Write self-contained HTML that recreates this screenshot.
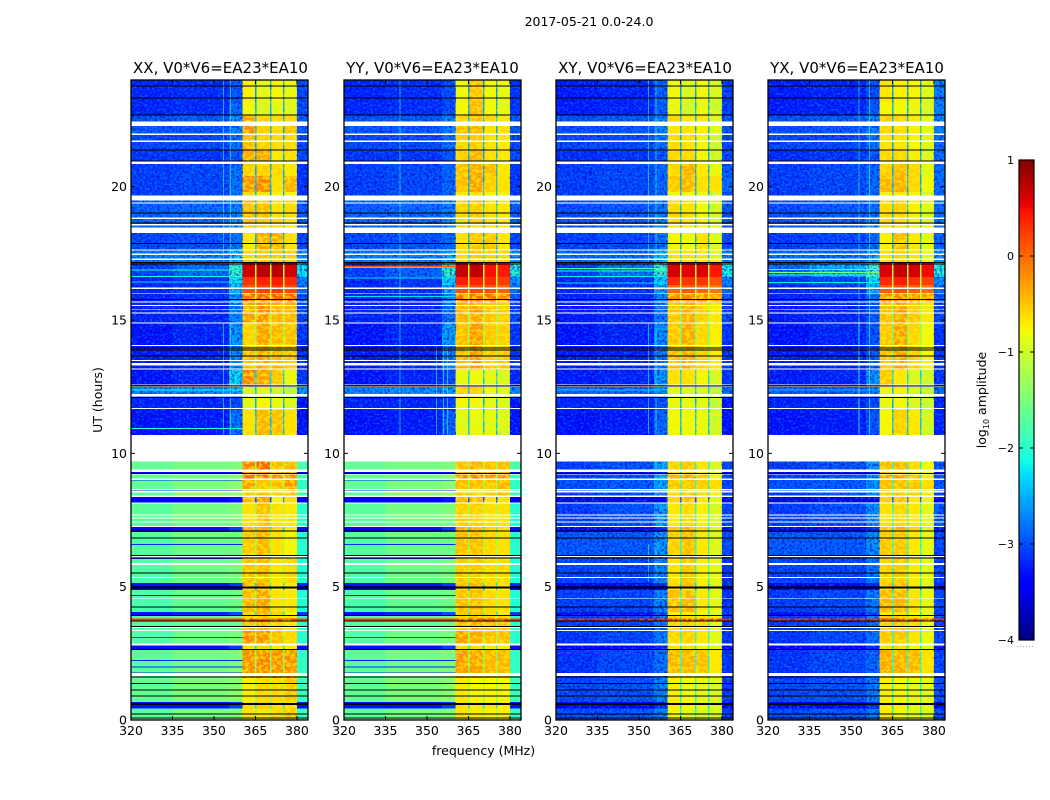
<!DOCTYPE html>
<html>
<head>
<meta charset="utf-8">
<title>2017-05-21 0.0-24.0</title>
<style>
html,body{margin:0;padding:0;background:#fff;width:1050px;height:800px;overflow:hidden}
svg{display:block}
text{font-family:"DejaVu Sans","Liberation Sans",sans-serif;fill:#000}
.heat rect{shape-rendering:crispEdges}
</style>
</head>
<body>
<svg id="figure" xmlns="http://www.w3.org/2000/svg" width="1050" height="800" viewBox="0 0 1050 800">
<defs>
<filter id="speckle-dark" x="0" y="0" width="1" height="1" color-interpolation-filters="sRGB">
<feTurbulence type="fractalNoise" baseFrequency="0.4 0.42" numOctaves="2" seed="4"/>
<feColorMatrix type="matrix" values="0 0 0 0 0  0 0 0 0 0  0 0 0 0 0.85  5 0 0 0 -2.3"/>
</filter>
<filter id="speckle-light" x="0" y="0" width="1" height="1" color-interpolation-filters="sRGB">
<feTurbulence type="fractalNoise" baseFrequency="0.38 0.44" numOctaves="2" seed="11"/>
<feColorMatrix type="matrix" values="0 0 0 0 0  0 0 0 0 0.62  0 0 0 0 1  5 0 0 0 -2.6"/>
</filter>
<filter id="speckle-band" x="0" y="0" width="1" height="1" color-interpolation-filters="sRGB">
<feTurbulence type="fractalNoise" baseFrequency="0.22 0.3" numOctaves="2" seed="7"/>
<feColorMatrix type="matrix" values="0 0 0 0 1  0 0 0 0 0.93  0 0 0 0 0  6 0 0 0 -2.7"/>
</filter>
</defs>
<text x="589" y="26" font-size="12.5" text-anchor="middle">2017-05-21 0.0-24.0</text>
<text x="220.5" y="73" font-size="15" text-anchor="middle">XX, V0*V6=EA23*EA10</text>
<text x="432.5" y="73" font-size="15" text-anchor="middle">YY, V0*V6=EA23*EA10</text>
<text x="645" y="73" font-size="15" text-anchor="middle">XY, V0*V6=EA23*EA10</text>
<text x="857" y="73" font-size="15" text-anchor="middle">YX, V0*V6=EA23*EA10</text>
<text transform="translate(102,400) rotate(-90)" font-size="12.5" text-anchor="middle">UT (hours)</text>
<text x="483.5" y="755" font-size="12.5" text-anchor="middle">frequency (MHz)</text>
<text transform="translate(986,400) rotate(-90)" font-size="12.5" text-anchor="middle">log<tspan font-size="8" dy="3">10</tspan><tspan dy="-3"> amplitude</tspan></text>
<g id="panels"></g>
<g id="colorbar"></g>
</svg>
<script>
// Axis tick labels
const freqTicks = [320, 335, 350, 365, 380];
const hourTicks = [0, 5, 10, 15, 20];
const colorbarTicks = [1, 0, -1, -2, -3, -4];

// Spectral windows (MHz): three background columns, four sub-bands with notches, right edge
const channelEdges = [320, 335, 355.5, 360.4, 364.9, 365.4, 370.3, 370.8, 375, 375.5, 380, 384];
// which value of a level row each channel column reads: b1 b2 b3 A N B N C N D R
const channelColumns = [0, 1, 2, 3, 8, 4, 8, 5, 8, 6, 7];
// tone correction added to each value of a level row
const columnBias = [-.1, -.1, -.08, -.08, -.08, -.08, -.08, -.1, -.25];

// Start hour (from the top down) of each time segment
const segmentHours = [24,23.17,22.69,22.27,21.94,21.38,20.85,20.4,19.8,19.49,18.83,18.27,17.65,17.14,16.61,16.31,16,15.64,14.89,14.03,13.13,12.49,12.11,11.63,9.69,9.3,9.2,9,8.55,8.36,8.11,7.24,7.05,6.08,5.13,5.03,4.88,4.05,3.9,3.8,3.74,3.34,2.79,2.66,1.58,0.68,0.44];

// log10 amplitude per segment: b1,b2,b3,A,B,C,D,right,notch
const levelsXX = [
[-3.1,-3.05,-2.85,-.65,-.85,-.7,-.8,-2.9,-2.4],
[-3.1,-3.05,-2.75,-.75,-.95,-.85,-.9,-2.9,-2.3],
[-2.85,-2.8,-2.5,-.2,-.5,-.5,-.5,-2.8,-2.2],
[-2.8,-2.8,-2.6,-.1,-.45,-.5,-.35,-2.8,-2.3],
[-2.9,-2.9,-2.7,-.3,-.45,-.5,-.5,-2.9,-2.3],
[-3,-3,-2.85,-.25,-.2,-.6,-.55,-2.9,-2.3],
[-2.95,-2.9,-2.7,-.45,-.45,-.5,-.6,-3,-2.3],
[-2.95,-2.9,-2.7,-.1,-.05,-.55,-.3,-3,-2.3],
[-2.95,-2.9,-2.7,-.5,-.55,-.65,-.7,-3,-2.3],
[-2.75,-2.7,-2.6,-.3,-.35,-.55,-.5,-2.8,-2.2],
[-2.7,-2.7,-2.5,-.4,-.45,-.5,-.6,-2.8,-2.2],
[-2.9,-2.85,-2.7,-.6,-.25,-.25,-.55,-2.9,-2.3],
[-2.6,-2.6,-2.3,-.5,-.4,-.4,-.4,-2.5,-2.1],
[-2.95,-2.7,-1.8,.72,.82,.82,.72,-2.1,-.7],
[-3.1,-3,-2.1,.35,.45,.5,.4,-2.6,-.8],
[-3.1,-3,-2.3,.2,.3,.35,.25,-2.7,-.85],
[-3.1,-3.05,-2.5,.05,.12,.15,.1,-2.8,-.9],
[-3.1,-3.1,-2.6,-.2,-.1,-.3,-.3,-2.9,-1.1],
[-3.2,-3.1,-2.5,-.45,-.2,-.3,-.35,-3,-1.1],
[-3.15,-3.1,-2.6,-.35,-.2,-.3,-.35,-3,-1.1],
[-3.2,-3.1,-2.15,-.02,-.2,-.4,-.8,-3,-2.1],
[-2.55,-2.5,-2.4,-1,-.9,-1,-1.2,-2.5,-2.2],
[-3.1,-3.1,-2.9,-.85,-.7,-.8,-.95,-3.2,-2.3],
[-3.2,-3.15,-2.7,-.55,-.3,-.35,-.55,-3.2,-2.2],
[-1.55,-1.45,-1.4,-.02,.15,-.3,-.35,-1.7,-1.1],
[-3.3,-3.3,-3.2,-.15,-.1,-.2,-.2,-3.3,-1.9],
[-1.6,-1.5,-1.4,.1,.12,-.1,-.1,-1.8,-1],
[-1.55,-1.4,-1.35,-.2,-.4,-.35,-.15,-1.85,-1.1],
[-1.6,-1.4,-1.3,-.45,-.4,-.45,-.35,-1.85,-1.1],
[-3.35,-3.3,-3.2,-.3,-.15,-.7,-.55,-3.3,-2.7],
[-1.6,-1.45,-1.4,-.55,-.35,-.55,-.6,-1.9,-1.1],
[-3.3,-3.2,-3,-.3,-.3,-.5,-.6,-3.2,-2],
[-1.65,-1.5,-1.5,-.4,-.3,-.55,-.7,-1.9,-1.1],
[-1.65,-1.5,-1.45,-.35,-.35,-.55,-.5,-1.95,-1.1],
[-3.2,-3.2,-3,-.25,-.2,-.6,-.65,-3.1,-2],
[-3.4,-3.4,-3.3,-.5,-.5,-.7,-.7,-3.4,-2.4],
[-1.7,-1.55,-1.5,-.3,-.2,-.55,-.6,-1.95,-1.1],
[-3.2,-3.1,-2.9,-.5,-.35,-.5,-.7,-3,-2],
[-1.65,-1.55,-1.5,-.5,-.4,-.6,-.6,-1.9,-1.1],
[.35,.35,.35,.35,.35,.35,.35,.35,.35],
[-1.65,-1.55,-1.5,-.35,-.3,-.45,-.6,-1.9,-1.1],
[-1.65,-1.5,-1.45,-.1,-.1,-.35,-.5,-1.9,-1.1],
[-3.2,-3.2,-3,-.5,-.5,-.6,-.6,-3.2,-2],
[-1.6,-1.45,-1.4,-.1,-.05,-.1,-.1,-1.85,-1.2],
[-1.55,-1.4,-1.35,-.65,-.5,-.5,-.4,-1.8,-1.1],
[-3.2,-3.2,-3,-.5,-.45,-.55,-.55,-3.2,-2],
[-1.6,-1.45,-1.4,-.55,-.6,-.5,-.4,-1.8,-1.1]];

const levelsYY = [
[-3.1,-3.05,-2.9,-.75,-.4,-.75,-.8,-3,-2.4],
[-3.1,-3.05,-2.9,-.7,-.3,-.75,-.85,-3,-2.3],
[-2.85,-2.8,-2.6,-.5,-.35,-.5,-.6,-2.8,-2.2],
[-2.8,-2.8,-2.6,-.35,-.3,-.55,-.55,-2.8,-2.3],
[-2.9,-2.9,-2.7,-.45,-.4,-.55,-.6,-2.9,-2.3],
[-3,-3,-2.85,-.45,-.3,-.55,-.6,-2.9,-2.3],
[-2.95,-2.9,-2.75,-.35,-.25,-.35,-.6,-3,-2.3],
[-2.95,-2.9,-2.75,-.35,-.2,-.45,-.55,-3,-2.3],
[-2.95,-2.9,-2.75,-.6,-.55,-.65,-.7,-3,-2.3],
[-2.75,-2.7,-2.6,-.45,-.4,-.55,-.6,-2.8,-2.2],
[-2.7,-2.7,-2.5,-.5,-.5,-.55,-.65,-2.8,-2.2],
[-2.9,-2.85,-2.75,-.55,-.4,-.4,-.6,-2.9,-2.3],
[-2.6,-2.6,-2.4,-.5,-.4,-.45,-.5,-2.5,-2.1],
[-2.95,-2.75,-1.85,.78,.8,.55,.5,-1.9,-.6],
[-3.1,-3,-2.2,.48,.45,.4,.3,-2.5,-.8],
[-3.1,-3,-2.35,.2,.25,.2,.1,-2.7,-.85],
[-3.1,-3.05,-2.6,.05,.05,.05,-.1,-2.8,-.9],
[-3.1,-3.1,-2.7,-.3,-.2,-.4,-.45,-2.9,-1.1],
[-3.2,-3.1,-2.45,-.35,-.15,-.4,-.45,-3,-1.1],
[-3.15,-3.1,-2.6,-.3,-.15,-.4,-.4,-3,-1.1],
[-3.2,-3.1,-2.9,-.8,-.75,-.85,-.95,-3.1,-2.1],
[-2.55,-2.5,-2.45,-.45,-.45,-.75,-.85,-2.5,-2.2],
[-3.1,-3.1,-3,-.75,-.75,-.85,-.9,-3.2,-2.3],
[-3.2,-3.15,-2.8,-.9,-.8,-.85,-.9,-3.2,-2.2],
[-1.55,-1.45,-1.4,-.35,-.3,-.35,-.35,-1.7,-1.1],
[-3.3,-3.3,-3.2,-.15,-.1,-.2,-.2,-3.3,-1.9],
[-1.6,-1.5,-1.4,-.1,-.05,-.1,-.15,-1.8,-1],
[-1.55,-1.4,-1.35,-.35,-.35,-.35,-.3,-1.85,-1.1],
[-1.6,-1.4,-1.3,-.4,-.4,-.4,-.35,-1.85,-1.1],
[-3.35,-3.3,-3.2,-.3,-.3,-.55,-.55,-3.3,-2.7],
[-1.6,-1.45,-1.4,-.45,-.45,-.55,-.55,-1.9,-1.1],
[-3.3,-3.2,-3,-.25,-.3,-.45,-.55,-3.2,-2],
[-1.65,-1.5,-1.5,-.35,-.35,-.5,-.55,-1.9,-1.1],
[-1.65,-1.5,-1.45,-.4,-.4,-.5,-.5,-1.95,-1.1],
[-3.2,-3.2,-3,-.3,-.3,-.5,-.55,-3.1,-2],
[-3.4,-3.4,-3.3,-.5,-.5,-.7,-.7,-3.4,-2.4],
[-1.7,-1.55,-1.5,-.35,-.35,-.5,-.55,-1.95,-1.1],
[-3.2,-3.1,-2.9,-.45,-.35,-.5,-.6,-3,-2],
[-1.65,-1.55,-1.5,-.45,-.4,-.5,-.55,-1.9,-1.1],
[.35,.35,.35,.35,.35,.35,.35,.35,.35],
[-1.65,-1.55,-1.5,-.3,-.25,-.35,-.4,-1.9,-1.1],
[-1.65,-1.5,-1.45,-.2,-.25,-.35,-.35,-1.9,-1.1],
[-3.2,-3.2,-3,-.5,-.5,-.6,-.6,-3.2,-2],
[-1.6,-1.45,-1.4,-.15,-.2,-.3,-.3,-1.85,-1.2],
[-1.55,-1.4,-1.35,-.6,-.7,-.7,-.7,-1.8,-1.1],
[-3.2,-3.2,-3,-.55,-.6,-.6,-.65,-3.2,-2],
[-1.6,-1.45,-1.4,-.55,-.6,-.65,-.65,-1.8,-1.1]];

const levelsXY = [
[-3.15,-3.1,-2.8,-.75,-.95,-.75,-.95,-2.95,-2.4],
[-3.15,-3.1,-2.8,-.8,-1,-.8,-1,-2.95,-2.3],
[-2.85,-2.8,-2.6,-.45,-.6,-.6,-.9,-2.8,-2.2],
[-2.85,-2.8,-2.6,-.6,-.55,-.65,-.9,-2.8,-2.3],
[-2.9,-2.9,-2.7,-.5,-.55,-.7,-1,-2.9,-2.3],
[-3.05,-3,-2.85,-.5,-.5,-.7,-1,-2.9,-2.3],
[-2.95,-2.9,-2.75,-.5,-.25,-.6,-.8,-2.8,-2.3],
[-2.95,-2.9,-2.75,-.4,-.3,-.55,-.55,-2.7,-2.3],
[-2.95,-2.9,-2.75,-.7,-.7,-.75,-.95,-2.9,-2.3],
[-2.85,-2.8,-2.7,-.5,-.55,-.75,-1,-2.85,-2.2],
[-2.8,-2.75,-2.55,-.55,-.6,-.7,-.95,-2.85,-2.2],
[-2.95,-2.9,-2.7,-.7,-.75,-.55,-.9,-2.9,-2.3],
[-2.7,-2.7,-2.3,-.55,-.55,-.55,-.85,-2.6,-2.1],
[-2.95,-2.65,-1.75,.72,.65,.7,.52,-2,-.8],
[-3.1,-3,-2.2,.42,.35,.35,.2,-2.6,-.9],
[-3.1,-3,-2.4,.1,.15,.1,0,-2.7,-.95],
[-3.1,-3.05,-2.6,-.1,-.05,-.1,-.2,-2.8,-1],
[-3.15,-3.1,-2.65,-.4,-.25,-.45,-.6,-2.9,-1.3],
[-3.2,-3.1,-2.55,-.4,-.25,-.5,-.65,-3,-1.4],
[-3.15,-3.1,-2.65,-.35,-.25,-.45,-.6,-3,-1.4],
[-3.15,-3.1,-2.5,-.55,-.55,-.7,-.95,-3,-2.1],
[-2.7,-2.7,-2.55,-.85,-.9,-1,-1.2,-2.7,-2.2],
[-3.1,-3.1,-2.9,-.8,-.85,-.85,-1.1,-3.2,-2.3],
[-3.2,-3.15,-2.75,-.75,-.75,-.8,-1,-3.2,-2.2],
[-2.95,-2.85,-2.4,-.45,-.4,-.55,-.95,-2.9,-1.9],
[-3.35,-3.3,-3.2,-.4,-.4,-.55,-.8,-3.3,-2.2],
[-2.95,-2.85,-2.4,-.3,-.2,-.4,-.75,-2.9,-1.9],
[-2.85,-2.8,-2.4,-.4,-.4,-.45,-.5,-2.9,-1.9],
[-2.95,-2.85,-2.5,-.45,-.4,-.5,-.65,-2.9,-1.9],
[-3.45,-3.4,-3.3,-.5,-.35,-.6,-.9,-3.3,-2.7],
[-2.95,-2.85,-2.45,-.6,-.5,-.65,-.95,-2.9,-1.9],
[-3.4,-3.3,-3.1,-.45,-.3,-.5,-.9,-3.2,-2],
[-2.8,-2.8,-2.5,-.45,-.35,-.6,-.9,-2.9,-1.9],
[-2.9,-2.9,-2.6,-.55,-.4,-.65,-.85,-3,-1.9],
[-3.35,-3.3,-3.1,-.5,-.35,-.65,-.9,-3.1,-2],
[-3.5,-3.45,-3.35,-.6,-.55,-.75,-.9,-3.4,-2.4],
[-2.95,-2.9,-2.6,-.35,-.3,-.6,-.85,-3,-1.9],
[-3.2,-3.15,-2.9,-.7,-.6,-.7,-.9,-3,-2],
[-2.95,-2.9,-2.6,-.5,-.55,-.65,-.9,-3,-1.9],
[.35,.35,.35,.35,.35,.35,.35,.35,.35],
[-2.95,-2.9,-2.65,-.5,-.45,-.5,-.85,-3,-1.9],
[-3,-2.9,-2.65,-.5,-.45,-.6,-.85,-3,-1.9],
[-3.3,-3.3,-3.1,-.55,-.55,-.7,-.9,-3.2,-2],
[-3,-2.9,-2.7,-.3,-.3,-.35,-.6,-3,-1.9],
[-2.9,-2.85,-2.6,-.65,-.75,-.85,-.9,-2.95,-1.9],
[-3.4,-3.35,-3.1,-.65,-.7,-.8,-.9,-3.3,-2],
[-2.85,-2.8,-2.6,-.7,-.85,-.95,-.95,-2.95,-1.9]];

const levelsYX = [
[-3.15,-3.1,-2.9,-.6,-.65,-.7,-.9,-2.6,-2.4],
[-3.15,-3.1,-2.85,-.7,-.75,-.8,-.95,-2.6,-2.3],
[-2.85,-2.8,-2.6,-.45,-.5,-.6,-.85,-2.6,-2.2],
[-2.85,-2.8,-2.6,-.5,-.5,-.65,-.85,-2.6,-2.3],
[-2.9,-2.9,-2.7,-.55,-.55,-.7,-.95,-2.7,-2.3],
[-3.05,-3,-2.85,-.5,-.5,-.65,-.9,-2.7,-2.3],
[-2.95,-2.9,-2.75,-.45,-.35,-.5,-.85,-2.7,-2.3],
[-2.95,-2.9,-2.75,-.3,-.25,-.5,-.75,-2.7,-2.3],
[-2.95,-2.9,-2.75,-.65,-.6,-.7,-.95,-2.75,-2.3],
[-2.85,-2.8,-2.7,-.5,-.45,-.65,-.9,-2.7,-2.2],
[-2.8,-2.75,-2.55,-.5,-.5,-.65,-.9,-2.7,-2.2],
[-2.95,-2.9,-2.75,-.65,-.35,-.6,-.85,-2.75,-2.3],
[-2.7,-2.7,-2.4,-.55,-.45,-.55,-.8,-2.5,-2.1],
[-2.7,-2.35,-1.75,.68,.78,.72,.58,-1.9,-.8],
[-3,-2.9,-2.15,.42,.48,.38,.3,-2.5,-.9],
[-3.1,-3,-2.4,.15,.22,.15,.05,-2.7,-.95],
[-3.1,-3.05,-2.7,-.1,-.05,-.1,-.2,-2.8,-1],
[-3.15,-3.1,-2.85,-.35,-.2,-.4,-.6,-2.9,-1.2],
[-3.2,-3.1,-2.85,-.4,-.2,-.5,-.75,-3,-1.3],
[-3.15,-3.1,-2.8,-.35,-.2,-.45,-.7,-3,-1.3],
[-3.15,-3.1,-2.5,-.4,-.6,-.95,-1.05,-3,-2.1],
[-2.75,-2.75,-2.65,-.75,-.65,-.95,-1.1,-2.7,-2.2],
[-3.1,-3.1,-2.9,-.8,-.75,-.95,-1.05,-3.1,-2.3],
[-3.2,-3.15,-2.85,-.7,-.45,-.6,-1,-3.1,-2.2],
[-2.95,-2.85,-2.5,-.35,-.3,-.5,-.75,-2.8,-1.9],
[-3.35,-3.3,-3.2,-.35,-.35,-.5,-.7,-3.3,-2.2],
[-2.95,-2.85,-2.5,-.2,-.2,-.35,-.6,-2.8,-1.9],
[-2.85,-2.8,-2.5,-.35,-.35,-.4,-.5,-2.8,-1.9],
[-2.95,-2.85,-2.55,-.4,-.4,-.45,-.6,-2.8,-1.9],
[-3.45,-3.4,-3.3,-.45,-.4,-.6,-.85,-3.3,-2.7],
[-2.95,-2.85,-2.55,-.55,-.5,-.6,-.85,-2.8,-1.9],
[-3.4,-3.3,-3.1,-.4,-.3,-.5,-.85,-3.2,-2],
[-2.8,-2.8,-2.55,-.4,-.4,-.6,-.85,-2.9,-1.9],
[-2.9,-2.9,-2.65,-.45,-.4,-.6,-.85,-2.9,-1.9],
[-3.35,-3.3,-3.1,-.4,-.35,-.6,-.9,-3.1,-2],
[-3.5,-3.45,-3.35,-.6,-.55,-.75,-.9,-3.4,-2.4],
[-2.95,-2.9,-2.65,-.3,-.3,-.55,-.8,-2.9,-1.9],
[-3.2,-3.15,-2.9,-.6,-.55,-.7,-.9,-3,-2],
[-2.95,-2.9,-2.65,-.45,-.5,-.6,-.85,-2.9,-1.9],
[.35,.35,.35,.35,.35,.35,.35,.35,.35],
[-2.95,-2.9,-2.7,-.45,-.4,-.5,-.8,-2.9,-1.9],
[-3,-2.9,-2.7,-.4,-.4,-.55,-.8,-2.9,-1.9],
[-3.3,-3.3,-3.1,-.55,-.55,-.7,-.9,-3.2,-2],
[-3,-2.9,-2.75,-.25,-.25,-.3,-.55,-2.9,-1.9],
[-2.9,-2.85,-2.65,-.65,-.7,-.8,-.85,-2.85,-1.9],
[-3.4,-3.35,-3.1,-.65,-.65,-.8,-.9,-3.3,-2],
[-2.85,-2.8,-2.65,-.6,-.7,-.85,-.9,-2.85,-1.9]];

// Flagged (blank) time ranges [start hour, end hour], all panels
const blankRanges = [[22.44,22.27],[22,21.94],[21.74,21.68],[20.94,20.85],[19.66,19.49],[19.41,19.36],[18.84,18.79],[18.6,18.54],[18.46,18.27],[17.65,17.6],[17.5,17.44],[17.31,17.25],[16.21,16.17],[16.02,15.99],[15.69,15.65],[15.56,15.53],[15.42,15.4],[15.29,15.25],[14.9,14.86],[14.06,14.03],[13.5,13.46],[13.38,13.29],[13.19,13.15],[12.59,12.56],[12.53,12.49],[12.23,12.14],[11.7,11.66],[10.69,9.69],[9.4,9.3],[9.22,9.2],[9.06,9],[8.66,8.61],[8.58,8.54],[8.41,8.37],[8.15,8.11],[7.71,7.66],[7.59,7.55],[7.44,7.4],[7.28,7.24],[6.16,6.11],[5.88,5.82],[5.36,5.33],[4.56,4.54],[3.5,3.45],[3.37,3.34],[2.87,2.79],[1.76,1.65]];

// Zero-amplitude (black) rows, hour of each, all panels
const blackRows = [23.79,23.34,22.71,21.4,20.99,19.04,18.65,17.88,17.18,17.12,15.78,13.96,13.89,13.66,12.54,12.11,9.27,7.11,6.85,6.18,6.09,5.54,5,4.96,4.26,3.94,3.74,3.53,2.66,1.63,1.39,1.15,.91,.64,.6,.25,.09];

// Single background rows [hour, level] per panel
const rowsXX = [[10.95,-2],[9.02,-3.2],[8.6,-3.2],[6.6,-3.2],[6.08,-3.2],[4.68,-3.2],[3.12,-3],[2.25,-3.2],[2,-3.2],[1.78,-3.2],[16.9,-2.1],[16.65,-2.1],[16.45,-2.3],[12.4,-2.1]];
const rowsYY = [[17.02,.1],[16.98,-.3],[16.6,-2.2],[16.2,-2.2],[15.9,-2.3],[9.02,-3.2],[8.6,-3.2],[6.6,-3.2],[6.08,-3.2],[4.68,-3.2],[3.12,-3],[2.25,-3.2],[2,-3.2],[1.78,-3.2]];
const rowsXY = [[16.95,-1.9],[16.85,-2],[16.65,-2.2],[16.4,-2.3],[12.4,-2.4]];
const rowsYX = [[16.92,-1.7],[16.8,-1.5],[16.7,-1.9],[16.42,-2.2],[12.4,-2.5]];

// Narrow RFI channels [MHz, from hour, to hour] per panel
const rfiXX = [[353.2,24,17.2],[355.8,24,17.2],[353.2,14.9,10.7],[355.8,14.9,10.7]];
const rfiYY = [[340,24,10.7],[353.2,14,10.7],[355.8,14,10.7],[357.2,14,10.7]];
const rfiXY = [[353.2,24,17.2],[356,24,17.2],[353.2,14.9,10.7],[356,14.9,10.7],[353.2,6.6,5.2],[356,6.6,5.2]];
const rfiYX = [[352.8,24,10.7],[356.5,24,10.7],[352.8,14.9,10.7]];

// Noisy time ranges [from hour, to hour] per panel
const noisyXX = [[24,10.69]];
const noisyYY = [[24,10.69]];
const noisyXY = [[24,0]];
const noisyYX = [[24,0]];
// Hours where the sub-bands show mottled yellow texture
const bandTextureRanges = [[24,17.14],[16,0]];

const panelNames = ['xx', 'yy', 'xy', 'yx'];
const panelLefts = [131, 344, 556, 768];
const panelLevels = [levelsXX, levelsYY, levelsXY, levelsYX];
const panelRows = [rowsXX, rowsYY, rowsXY, rowsYX];
const panelRfi = [rfiXX, rfiYY, rfiXY, rfiYX];
const panelNoise = [noisyXX, noisyYY, noisyXY, noisyYX];

const PANEL_WIDTH = 177, TOP = 80, BOTTOM = 720;
const FREQ_MIN = 320, FREQ_MAX = 384, HOUR_MAX = 24;
const LEVEL_MIN = -4, LEVEL_MAX = 1;
const ROW_HOURS = 0.0375;
const SVG_NS = 'http://www.w3.org/2000/svg';

function yOf(h) { return BOTTOM - h * (BOTTOM - TOP) / HOUR_MAX; }
function xOf(left, f) { return left + (f - FREQ_MIN) * PANEL_WIDTH / (FREQ_MAX - FREQ_MIN); }

function ramp(t, pts) {
  for (let i = 1; i < pts.length; i++) {
    if (t <= pts[i][0]) {
      const a = pts[i - 1], b = pts[i];
      return a[1] + (b[1] - a[1]) * (t - a[0]) / (b[0] - a[0]);
    }
  }
  return pts[pts.length - 1][1];
}
const JET_R = [[0,0],[.35,0],[.66,1],[.89,1],[1,.5]];
const JET_G = [[0,0],[.125,0],[.375,1],[.64,1],[.91,0],[1,0]];
const JET_B = [[0,.5],[.11,1],[.34,1],[.65,0],[1,0]];
function jet(level) {
  const t = Math.min(1, Math.max(0, (level - LEVEL_MIN) / (LEVEL_MAX - LEVEL_MIN)));
  return 'rgb(' + Math.round(255 * ramp(t, JET_R)) + ',' + Math.round(255 * ramp(t, JET_G)) + ',' + Math.round(255 * ramp(t, JET_B)) + ')';
}

function mk(parent, tag, attrs) {
  const el = document.createElementNS(SVG_NS, tag);
  for (const k in attrs) el.setAttribute(k, attrs[k]);
  parent.appendChild(el);
  return el;
}

const panelsRoot = document.getElementById('panels');

panelNames.forEach(function (name, p) {
  const left = panelLefts[p];
  const right = left + PANEL_WIDTH;
  const g = mk(panelsRoot, 'g', { 'class': 'heat' });
  
  

  // heatmap cells
  segmentHours.forEach(function (h, s) {
    const next = s + 1 < segmentHours.length ? segmentHours[s + 1] : 0;
    channelColumns.forEach(function (col, c) {
      const x0 = xOf(left, channelEdges[c]);
      const x1 = xOf(left, channelEdges[c + 1]);
      const cell = mk(g, 'rect', { x: x0, y: yOf(h), width: x1 - x0, height: yOf(next) - yOf(h), fill: jet(panelLevels[p][s][col] + columnBias[col]) });
      
      
    });
  });

  // noise texture on the off-band background
  panelNoise[p].forEach(function (range) {
    const spans = [[FREQ_MIN, 360.4], [380, FREQ_MAX]];
    spans.forEach(function (sp) {
      const attrs = { x: xOf(left, sp[0]), y: yOf(range[0]), width: xOf(left, sp[1]) - xOf(left, sp[0]), height: yOf(range[1]) - yOf(range[0]) };
      const dark = mk(g, 'rect', Object.assign({ filter: 'url(#speckle-dark)', opacity: 0.6 }, attrs));
      
      
      const light = mk(g, 'rect', Object.assign({ filter: 'url(#speckle-light)', opacity: 0.45 }, attrs));
      
      
    });
  });

  // mottled texture inside the sub-bands
  const subBands = [[360.4, 364.9], [365.4, 370.3], [370.8, 375], [375.5, 380]];
  bandTextureRanges.forEach(function (range) {
    subBands.forEach(function (sb) {
      const tex = mk(g, 'rect', { x: xOf(left, sb[0]), y: yOf(range[0]), width: xOf(left, sb[1]) - xOf(left, sb[0]), height: yOf(range[1]) - yOf(range[0]), filter: 'url(#speckle-band)', opacity: 0.7 });
      
      
    });
  });

  // single background rows
  panelRows[p].forEach(function (row) {
    const r = mk(g, 'rect', { x: left, y: yOf(row[0]), width: xOf(left, 360.4) - left, height: yOf(0) - yOf(ROW_HOURS), fill: jet(row[1]) });
    
    
  });

  // RFI channels
  panelRfi[p].forEach(function (rfi) {
    const r = mk(g, 'rect', { x: xOf(left, rfi[0]), y: yOf(rfi[1]), width: 1, height: yOf(rfi[2]) - yOf(rfi[1]), fill: jet(-2), opacity: 0.6 });
    
    
  });

  // flagged ranges
  blankRanges.forEach(function (b) {
    const r = mk(g, 'rect', { x: left, y: yOf(b[0]), width: PANEL_WIDTH, height: yOf(b[1]) - yOf(b[0]), fill: '#fff' });
    
    
  });

  // black rows
  blackRows.forEach(function (h) {
    const r = mk(g, 'rect', { x: left, y: yOf(h), width: PANEL_WIDTH, height: yOf(0) - yOf(ROW_HOURS), fill: '#000' });
    
    
  });

  // frame
  const frame = mk(panelsRoot, 'rect', { x: left, y: TOP, width: PANEL_WIDTH, height: BOTTOM - TOP, fill: 'none', stroke: '#000', 'stroke-width': 1.3 });
  
  

  // x ticks
  freqTicks.forEach(function (f) {
    const x = xOf(left, f);
    const t1 = mk(panelsRoot, 'line', { x1: x, x2: x, y1: BOTTOM, y2: BOTTOM - 4, stroke: '#000', 'stroke-width': 1 });
    
    
    const t2 = mk(panelsRoot, 'line', { x1: x, x2: x, y1: TOP, y2: TOP + 4, stroke: '#000', 'stroke-width': 1 });
    
    
    const label = mk(panelsRoot, 'text', { x: x, y: 735, 'font-size': 12.5, 'text-anchor': 'middle' });
    label.textContent = String(f);
    
    
  });

  // y ticks
  hourTicks.forEach(function (h) {
    const y = yOf(h);
    const t1 = mk(panelsRoot, 'line', { x1: left, x2: left + 4, y1: y, y2: y, stroke: '#000', 'stroke-width': 1 });
    
    
    const t2 = mk(panelsRoot, 'line', { x1: right, x2: right - 4, y1: y, y2: y, stroke: '#000', 'stroke-width': 1 });
    
    
    const label = mk(panelsRoot, 'text', { x: left - 4, y: y + 4.5, 'font-size': 12.5, 'text-anchor': 'end' });
    label.textContent = String(h);
    
    
  });
});

// Colorbar
const cbRoot = document.getElementById('colorbar');
const CB_LEFT = 1019, CB_WIDTH = 15, CB_TOP = 160, CB_BOTTOM = 640;
function cbY(v) { return CB_BOTTOM - (v - LEVEL_MIN) * (CB_BOTTOM - CB_TOP) / (LEVEL_MAX - LEVEL_MIN); }
for (let y = CB_TOP; y < CB_BOTTOM; y += 2) {
  const v = LEVEL_MAX - (y + 1 - CB_TOP) * (LEVEL_MAX - LEVEL_MIN) / (CB_BOTTOM - CB_TOP);
  const s = mk(cbRoot, 'rect', { x: CB_LEFT, y: y, width: CB_WIDTH, height: 2, fill: jet(v), 'shape-rendering': 'crispEdges' });
  
  
}
const cbFrame = mk(cbRoot, 'rect', { x: CB_LEFT, y: CB_TOP, width: CB_WIDTH, height: CB_BOTTOM - CB_TOP, fill: 'none', stroke: '#000', 'stroke-width': 1.2 });


colorbarTicks.forEach(function (v) {
  const y = cbY(v);
  const a = mk(cbRoot, 'line', { x1: CB_LEFT, x2: CB_LEFT + 4, y1: y, y2: y, stroke: '#000', 'stroke-width': 1 });
  
  
  const b = mk(cbRoot, 'line', { x1: CB_LEFT + CB_WIDTH, x2: CB_LEFT + CB_WIDTH - 4, y1: y, y2: y, stroke: '#000', 'stroke-width': 1 });
  
  
  const label = mk(cbRoot, 'text', { x: 1014, y: y + 4, 'font-size': 11, 'text-anchor': 'end' });
  label.textContent = String(v).replace('-', '\u2212');
  
  
});
const cbDots = mk(cbRoot, 'line', { x1: 1017, x2: 1035, y1: 646.5, y2: 646.5, stroke: '#aaa', 'stroke-width': 1, 'stroke-dasharray': '1 2' });


</script>
</body>
</html>
